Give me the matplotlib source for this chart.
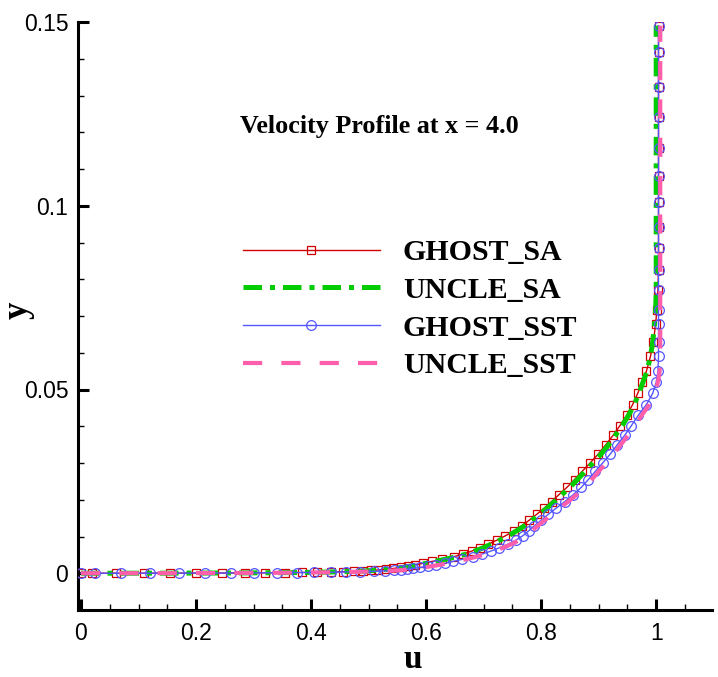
import matplotlib
matplotlib.use('Agg')
import matplotlib.pyplot as plt
from matplotlib.ticker import MultipleLocator, FixedLocator

# ---------------- data ----------------
y_grid = [0, 0.000005, 0.00001, 0.00002, 0.00003, 0.00005, 0.00007, 0.0001,
          0.00013, 0.00017, 0.00022, 0.00028, 0.00035, 0.00043, 0.00052, 0.00063,
          0.00076, 0.0009, 0.0011, 0.0013, 0.0016, 0.0019, 0.0023, 0.0027,
          0.0032, 0.0038, 0.0045, 0.0052, 0.006, 0.0069, 0.0079, 0.009,
          0.0102, 0.0115, 0.0129, 0.0144, 0.016, 0.0177, 0.0195, 0.0214,
          0.0234, 0.0255, 0.0277, 0.03, 0.0324, 0.0349, 0.0375, 0.0402,
          0.043, 0.0459, 0.049, 0.052, 0.055, 0.059, 0.063, 0.0677,
          0.0717, 0.077, 0.0826, 0.0886, 0.0943, 0.1011, 0.1082, 0.1158,
          0.1242, 0.1323, 0.1418, 0.149]

u_ghost_sa = [0, 0.02, 0.06, 0.11, 0.155, 0.20, 0.245, 0.285,
              0.32, 0.355, 0.385, 0.41, 0.435, 0.455, 0.475, 0.49,
              0.505, 0.517, 0.53, 0.543, 0.556, 0.568, 0.58, 0.595,
              0.61, 0.628, 0.648, 0.664, 0.679, 0.694, 0.708, 0.723,
              0.738, 0.752, 0.766, 0.779, 0.792, 0.805, 0.818, 0.831,
              0.845, 0.858, 0.871, 0.885, 0.899, 0.912, 0.925, 0.937,
              0.949, 0.959, 0.968, 0.976, 0.983, 0.99, 0.995, 0.999,
              1.001, 1.003, 1.004, 1.004, 1.004, 1.004, 1.004, 1.004,
              1.004, 1.004, 1.004, 1.004]

u_uncle_sa = [0, 0.022, 0.062, 0.113, 0.158, 0.203, 0.248, 0.288,
              0.323, 0.358, 0.388, 0.413, 0.438, 0.458, 0.478, 0.494,
              0.509, 0.521, 0.534, 0.547, 0.56, 0.572, 0.585, 0.60,
              0.615, 0.633, 0.653, 0.669, 0.684, 0.699, 0.713, 0.728,
              0.743, 0.757, 0.771, 0.784, 0.797, 0.81, 0.823, 0.836,
              0.85, 0.863, 0.876, 0.89, 0.904, 0.917, 0.929, 0.941,
              0.952, 0.962, 0.97, 0.977, 0.984, 0.99, 0.994, 0.997,
              0.999, 1.0, 1.0, 1.0, 1.0, 1.0, 1.0, 1.0,
              1.0, 1.0, 1.0, 1.0]

u_ghost_sst = [0, 0.025, 0.07, 0.12, 0.17, 0.215, 0.26, 0.30,
               0.34, 0.375, 0.405, 0.435, 0.46, 0.485, 0.51, 0.528,
               0.545, 0.556, 0.567, 0.578, 0.59, 0.603, 0.618, 0.632,
               0.646, 0.663, 0.682, 0.697, 0.712, 0.727, 0.742, 0.756,
               0.768, 0.778, 0.788, 0.80, 0.812, 0.826, 0.841, 0.856,
               0.87, 0.882, 0.894, 0.907, 0.92, 0.932, 0.945, 0.957,
               0.969, 0.983, 0.994, 1.0, 1.003, 1.004, 1.004, 1.004,
               1.004, 1.004, 1.004, 1.004, 1.004, 1.004, 1.004, 1.004,
               1.004, 1.004, 1.004, 1.004]

u_uncle_sst = [0, 0.027, 0.072, 0.122, 0.172, 0.218, 0.263, 0.303,
               0.343, 0.378, 0.408, 0.438, 0.463, 0.488, 0.513, 0.531,
               0.549, 0.561, 0.572, 0.584, 0.596, 0.609, 0.624, 0.638,
               0.652, 0.669, 0.688, 0.703, 0.718, 0.733, 0.748, 0.762,
               0.774, 0.784, 0.794, 0.806, 0.818, 0.832, 0.847, 0.862,
               0.876, 0.888, 0.90, 0.913, 0.926, 0.938, 0.951, 0.963,
               0.975, 0.988, 0.998, 1.003, 1.006, 1.007, 1.007, 1.007,
               1.007, 1.007, 1.007, 1.007, 1.007, 1.007, 1.007, 1.007,
               1.007, 1.007, 1.007, 1.007]

series_labels = ['GHOST_SA', 'UNCLE_SA', 'GHOST_SST', 'UNCLE_SST']
x_ticks = [0, 0.2, 0.4, 0.6, 0.8, 1.0]
x_tick_labels = ['0', '0.2', '0.4', '0.6', '0.8', '1']
y_ticks = [0, 0.05, 0.1, 0.15]
y_tick_labels = ['0', '0.05', '0.1', '0.15']
title_text = 'Velocity Profile at x = 4.0'
x_label = 'u'
y_label = 'y'

# ---------------- figure ----------------
W, H = 718, 677
fig = plt.figure(figsize=(W / 100, H / 100), dpi=100)
ax_l, ax_r, ax_t, ax_b = 78, 712, 22, 610
ax = fig.add_axes([ax_l / W, 1 - ax_b / H, (ax_r - ax_l) / W, (ax_b - ax_t) / H])

serif = 'Liberation Serif'
sans = 'Liberation Sans'

ax.plot(u_ghost_sa, y_grid, color='#D00000', lw=1.0, marker='s', ms=6.2,
        mfc='none', mec='#D00000', mew=0.9, label=series_labels[0], zorder=3)
ax.plot(u_uncle_sa, y_grid, color='#00CC00', lw=3.6, dashes=(3.7, 1.6, 1.0, 1.6),
        dash_capstyle='butt', label=series_labels[1], zorder=4)
ax.plot(u_ghost_sst, y_grid, color='#5555FF', lw=1.0, marker='o', ms=7.0,
        mfc='none', mec='#5555FF', mew=0.9, label=series_labels[2], zorder=5)
ax.plot(u_uncle_sst, y_grid, color='#FF5FAA', lw=3.0, dashes=(4.6, 4.6),
        dash_capstyle='butt', label=series_labels[3], zorder=6)

ax.set_xlim(-0.0052, 1.097)
ax.set_ylim(-0.01, 0.15)

for s in ['top', 'right']:
    ax.spines[s].set_visible(False)
for s in ['left', 'bottom']:
    ax.spines[s].set_linewidth(2.2)
    ax.spines[s].set_color('black')

ax.xaxis.set_major_locator(FixedLocator(x_ticks))
ax.set_xticklabels(x_tick_labels)
ax.yaxis.set_major_locator(FixedLocator(y_ticks))
ax.set_yticklabels(y_tick_labels)
ax.xaxis.set_minor_locator(MultipleLocator(0.05))
ax.yaxis.set_minor_locator(MultipleLocator(0.01))
ax.tick_params(which='major', direction='in', length=8, width=2.2, color='black')
ax.tick_params(which='minor', direction='in', length=4.5, width=1.0, color='black')
ax.tick_params(axis='x', which='major', pad=9)
ax.tick_params(axis='y', which='major', pad=7)
for lab in ax.get_xticklabels() + ax.get_yticklabels():
    lab.set_fontfamily(sans)
    lab.set_fontsize(16.5)

fig.text(413 / W, 1 - 659 / H, x_label, ha='center', va='center',
         fontfamily=serif, fontweight='bold', fontsize=24)
fig.text(18 / W, 1 - 310 / H, y_label, ha='center', va='center', rotation=90,
         fontfamily=serif, fontweight='bold', fontsize=25)
fig.text(379 / W, 1 - 127 / H, title_text, ha='center', va='center',
         fontfamily=serif, fontweight='bold', fontsize=18.8)

leg = ax.legend(loc='upper left', bbox_to_anchor=(243 / W, 1 - 239 / H),
                bbox_transform=fig.transFigure, frameon=False,
                prop={'family': serif, 'weight': 'bold', 'size': 21.5},
                handlelength=4.58, handletextpad=0.77, labelspacing=0.36,
                borderpad=0, borderaxespad=0, numpoints=1)

fig.savefig('out.png', dpi=100)
